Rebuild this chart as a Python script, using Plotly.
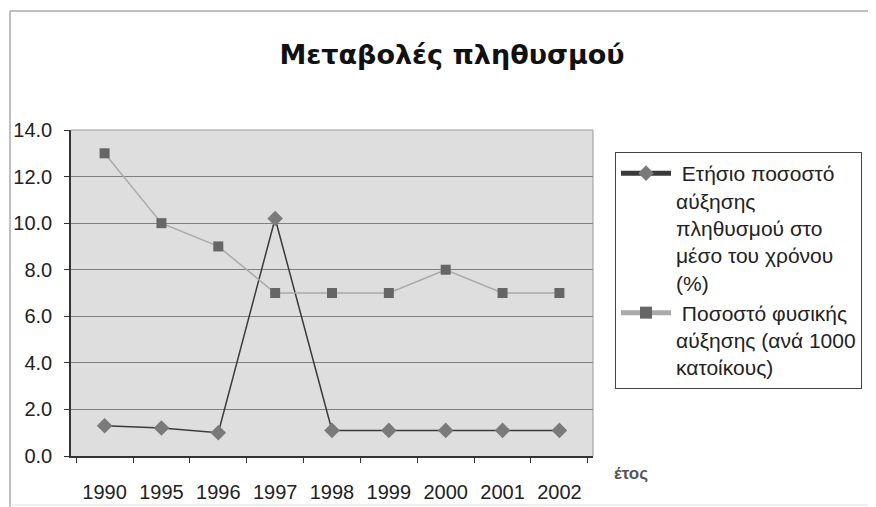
import plotly.graph_objects as go

years = ["1990", "1995", "1996", "1997", "1998", "1999", "2000", "2001", "2002"]
annual_growth = [1.3, 1.2, 1.0, 10.2, 1.1, 1.1, 1.1, 1.1, 1.1]
natural_growth = [13.0, 10.0, 9.0, 7.0, 7.0, 7.0, 8.0, 7.0, 7.0]
y_ticks = [0, 2, 4, 6, 8, 10, 12, 14]

name1 = " Ετήσιο ποσοστό<br>αύξησης<br>πληθυσμού στο<br>μέσο του χρόνου<br>(%)"
name2 = " Ποσοστό φυσικής<br>αύξησης (ανά 1000<br>κατοίκους)"

# the page body has an 8px margin: work in screenshot pixels, convert below
OFF = 8
W, H = 876 - OFF, 507 - OFF
PL, PR, PT, PB = 71, 593, 130, 456          # plot area in screenshot pixels
L, R, T, B = PL - OFF, W - (PR - OFF), PT - OFF, H - (PB - OFF)
PW, PH = W - L - R, H - T - B


def px(x):
    return (x - PL) / PW


def py(y):
    return (PB - y) / PH


fig = go.Figure()
fig.add_trace(go.Scatter(
    x=years, y=annual_growth, name=name1, mode="lines+markers",
    line=dict(color="#3a3a3a", width=1.5),
    marker=dict(symbol="diamond", size=12, color="#7a7a7a"),
))
fig.add_trace(go.Scatter(
    x=years, y=natural_growth, name=name2, mode="lines+markers",
    line=dict(color="#aaaaaa", width=1.5),
    marker=dict(symbol="square", size=10, color="#666666"),
))

font = "Liberation Sans, Arial, sans-serif"
fig.update_layout(
    width=W, height=H,
    margin=dict(l=L, r=R, t=T, b=B, autoexpand=False),
    paper_bgcolor="white",
    plot_bgcolor="#dedede",
    font=dict(family=font, color="#222222", size=20),
    title=dict(text="<b>Μεταβολές πληθυσμού</b>", xref="container", x=(452 - OFF) / W,
               xanchor="center", y=1 - (55 - OFF) / H, yanchor="middle",
               font=dict(size=27, color="#111111", family="DejaVu Sans, sans-serif")),
    showlegend=True,
    legend=dict(x=px(615), y=py(152), xanchor="left", yanchor="top",
                bordercolor="#444444", borderwidth=1, bgcolor="white",
                font=dict(size=21, color="#222222"), tracegroupgap=0,
                valign="top", itemsizing="constant", itemwidth=50,
                entrywidth=228, entrywidthmode="pixels"),
    xaxis=dict(type="category", showgrid=False, showline=True, linecolor="#333333",
               linewidth=1.5, ticks="outside", tickson="boundaries", ticklen=5,
               tickcolor="#333333", tickfont=dict(size=20), ticklabelstandoff=17,
               automargin=False),
    yaxis=dict(range=[0, 14], tickvals=y_ticks, tickformat=".1f", showgrid=True,
               gridcolor="#808080", gridwidth=1, showline=True, linecolor="#333333",
               linewidth=1.5, ticks="outside", ticklen=5, tickcolor="#333333",
               tickfont=dict(size=20), zeroline=False, ticklabelstandoff=8,
               automargin=False),
    annotations=[dict(text="<b>έτος</b>", xref="paper", yref="paper", x=px(612), y=py(473),
                      xanchor="left", yanchor="middle", showarrow=False,
                      font=dict(size=17, color="#555555"))],
    shapes=[
        dict(type="line", xref="paper", yref="paper", x0=1, x1=1, y0=0, y1=1,
             line=dict(color="#999999", width=1)),
        dict(type="line", xref="paper", yref="paper", x0=0, x1=1, y0=1, y1=1,
             line=dict(color="#999999", width=1)),
        dict(type="line", xref="paper", yref="paper", x0=px(10), x1=px(10), y0=py(11), y1=py(520),
             line=dict(color="#aaaaaa", width=1.5)),
        dict(type="line", xref="paper", yref="paper", x0=px(10), x1=px(900), y0=py(11), y1=py(11),
             line=dict(color="#aaaaaa", width=1.5)),
        dict(type="line", xref="paper", yref="paper", x0=px(10), x1=px(900), y0=py(505), y1=py(505),
             line=dict(color="#dddddd", width=1)),
    ],
)
fig.write_html("out.html")
